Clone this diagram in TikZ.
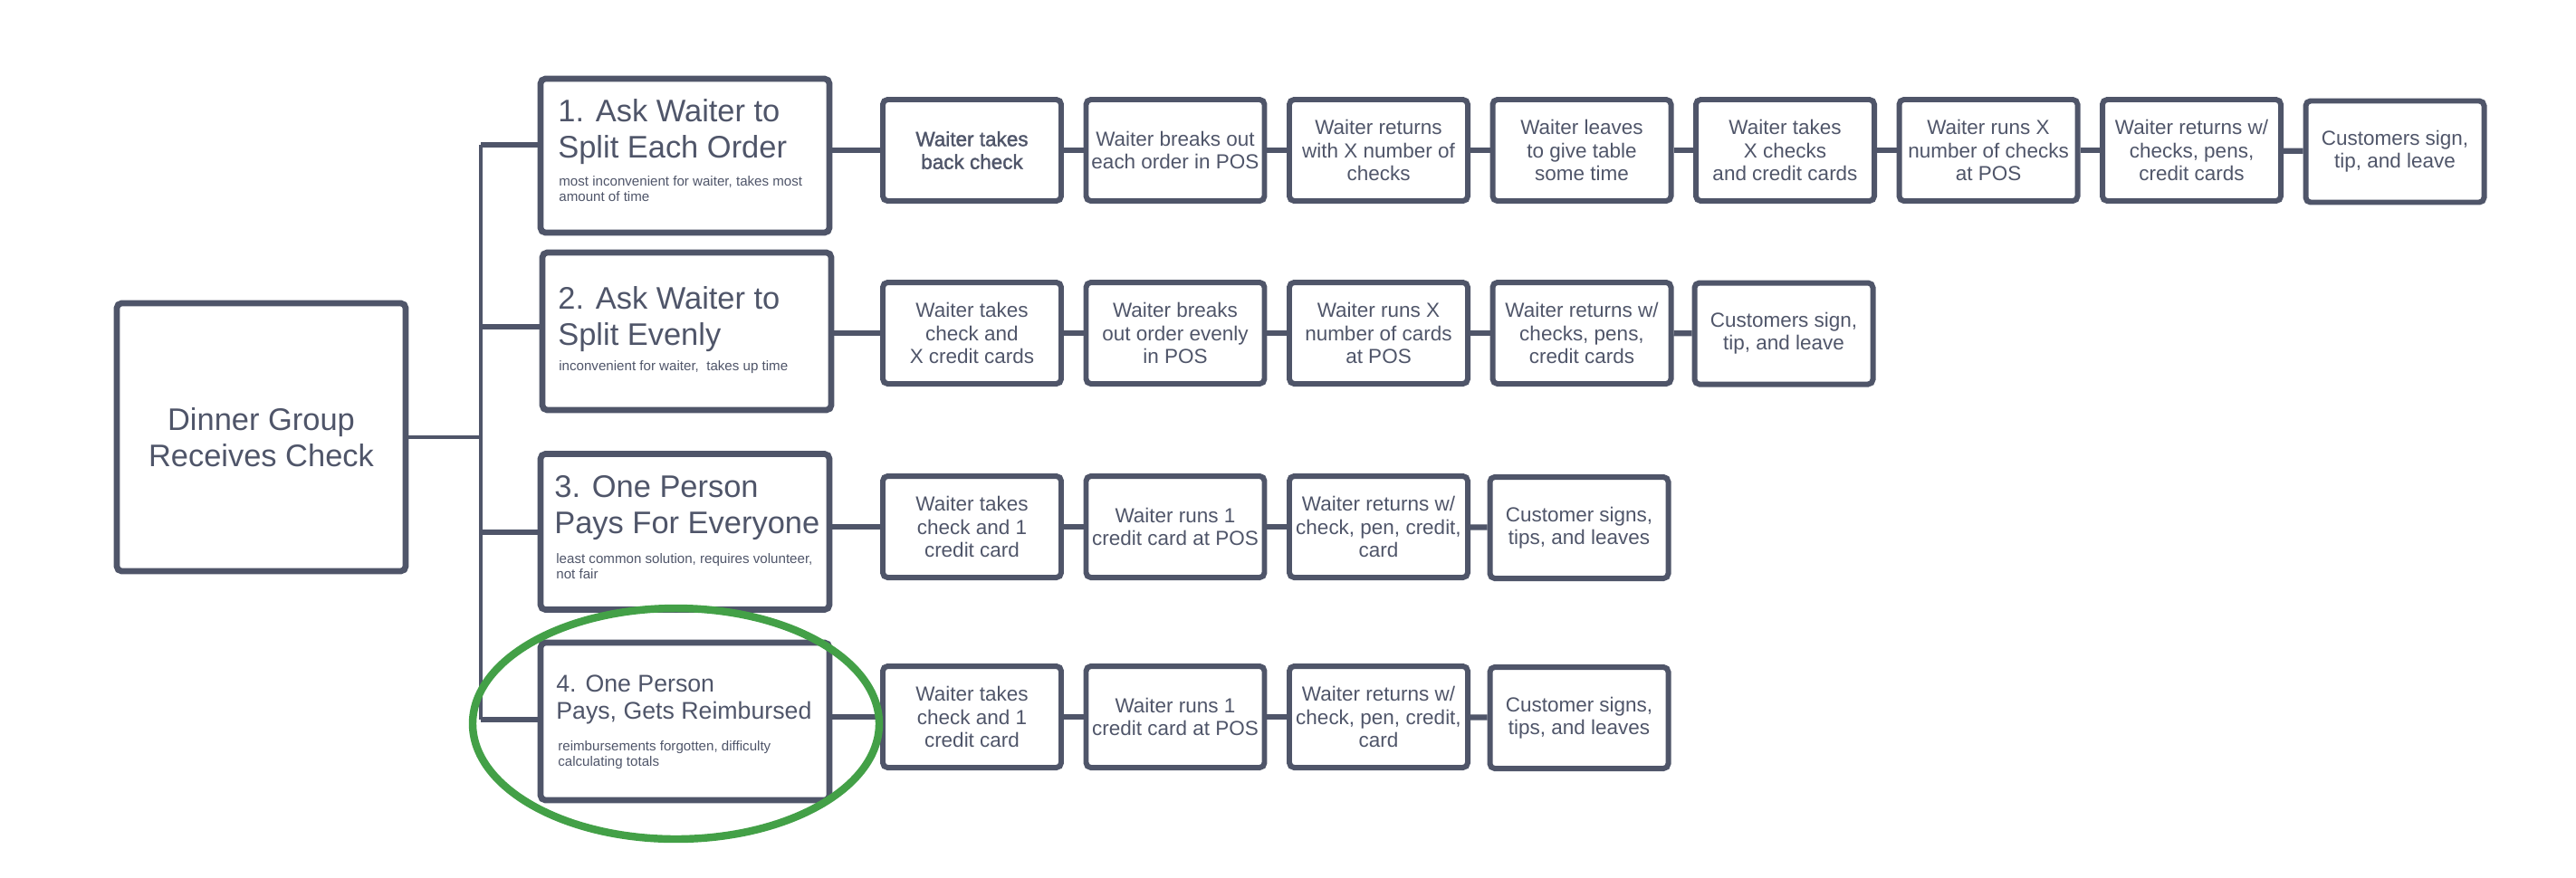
\documentclass[tikz,border=0pt]{standalone}
\usepackage{fontspec}
\setmainfont{Liberation Sans}
\newfontfamily\heavyfont[FakeBold=1.5]{Liberation Sans}
\usetikzlibrary{positioning}

\definecolor{slate}{HTML}{4F5569}
\definecolor{ringgreen}{HTML}{43A047}

\newcommand{\stepsize}{\fontsize{6.4}{7.2}\selectfont}
\newcommand{\titlesize}{\fontsize{9.8}{11.4}\selectfont}
\newcommand{\smalltitlesize}{\fontsize{7.6}{8.8}\selectfont}
\newcommand{\notesize}{\fontsize{4.3}{4.8}\selectfont}

\tikzset{
  mainbox/.style={draw=slate, line width=1.9pt, rounded corners=1.5pt, minimum width=3.19cm, minimum height=2.96cm, align=center, text=slate, font=\titlesize},
  optbox/.style={draw=slate, line width=1.9pt, rounded corners=1.5pt, minimum width=3.19cm},
  opttitle/.style={inner sep=0pt, align=left, text=slate, font=\titlesize},
  optnote/.style={inner sep=0pt, align=left, text=slate, font=\notesize},
  stepbox/.style={draw=slate, line width=1.7pt, rounded corners=1.5pt, minimum width=1.97cm, minimum height=1.12cm, inner sep=0.5pt, align=center, text=slate, font=\stepsize},
  link/.style={draw=slate, line width=1.6pt},
}

\begin{document}
\begin{tikzpicture}
\useasboundingbox (0,0) rectangle (28.45,-9.69);

% start box
\node[mainbox] (start) at (2.885,-4.83) {Dinner Group\\Receives Check};

% the four options
\node[optbox, minimum height=1.70cm] (opt1) at (7.565,-1.72) {};
\node[opttitle, below right=0.25cm and 0.22cm of opt1.north west] (opt1t) {1. Ask Waiter to\\Split Each Order};
\node[optnote, below right=0.12cm and 0.01cm of opt1t.south west] (opt1n) {most inconvenient for waiter, takes most\\amount of time};

\node[optbox, minimum height=1.74cm] (opt2) at (7.585,-3.66) {};
\node[opttitle, below right=0.4cm and 0.2cm of opt2.north west] (opt2t) {2. Ask Waiter to\\Split Evenly};
\node[optnote, below right=0.09cm and 0.01cm of opt2t.south west] (opt2n) {inconvenient for waiter,~ takes up time};

\node[optbox, minimum height=1.72cm] (opt3) at (7.565,-5.875) {};
\node[opttitle, below right=0.27cm and 0.18cm of opt3.north west] (opt3t) {3. One Person\\Pays For Everyone};
\node[optnote, below right=0.13cm and 0.02cm of opt3t.south west] (opt3n) {least common solution, requires volunteer,\\not fair};

\node[optbox, minimum height=1.74cm] (opt4) at (7.565,-7.97) {};
\node[opttitle, font=\smalltitlesize, below right=0.38cm and 0.2cm of opt4.north west] (opt4t) {4. One Person\\Pays, Gets Reimbursed};
\node[optnote, below right=0.17cm and 0.02cm of opt4t.south west] (opt4n) {reimbursements forgotten, difficulty\\calculating totals};

% trunk
\coordinate (j1) at (5.31,-1.60);
\coordinate (j2) at (5.31,-3.61);
\coordinate (j3) at (5.31,-5.88);
\coordinate (j4) at (5.31,-7.95);
\draw[link, line width=1.3pt] (j1) -- (j4);
\draw[link, line width=1.4pt] (start.east) -- (start.east -| j1);
\draw[link] (j1) -- (j1 -| opt1.west);
\draw[link] (j2) -- (j2 -| opt2.west);
\draw[link] (j3) -- (j3 -| opt3.west);
\draw[link] (j4) -- (j4 -| opt4.west);

% row 1
\node[stepbox, font=\stepsize\heavyfont] (s11) at (10.735,-1.66) {Waiter takes\\back check};
\node[stepbox] (s12) at (12.98,-1.66) {Waiter breaks out\\each order in POS};
\node[stepbox] (s13) at (15.225,-1.66) {Waiter returns\\with X number of\\checks};
\node[stepbox] (s14) at (17.47,-1.66) {Waiter leaves\\to give table\\some time};
\node[stepbox] (s15) at (19.715,-1.66) {Waiter takes\\X checks\\and credit cards};
\node[stepbox] (s16) at (21.96,-1.66) {Waiter runs X\\number of checks\\at POS};
\node[stepbox] (s17) at (24.205,-1.66) {Waiter returns w/\\checks, pens,\\credit cards};
\node[stepbox] (s18) at (26.45,-1.675) {Customers sign,\\tip, and leave};

% row 2
\node[stepbox] (s21) at (10.735,-3.68) {Waiter takes\\check and\\X credit cards};
\node[stepbox] (s22) at (12.98,-3.68) {Waiter breaks\\out order evenly\\in POS};
\node[stepbox] (s23) at (15.225,-3.68) {Waiter runs X\\number of cards\\at POS};
\node[stepbox] (s24) at (17.47,-3.68) {Waiter returns w/\\checks, pens,\\credit cards};
\node[stepbox] (s25) at (19.70,-3.685) {Customers sign,\\tip, and leave};

% row 3
\node[stepbox] (s31) at (10.735,-5.82) {Waiter takes\\check and 1\\credit card};
\node[stepbox] (s32) at (12.98,-5.82) {Waiter runs 1\\credit card at POS};
\node[stepbox] (s33) at (15.225,-5.82) {Waiter returns w/\\check, pen, credit,\\card};
\node[stepbox] (s34) at (17.44,-5.83) {Customer signs,\\tips, and leaves};

% row 4
\node[stepbox] (s41) at (10.735,-7.92) {Waiter takes\\check and 1\\credit card};
\node[stepbox] (s42) at (12.98,-7.92) {Waiter runs 1\\credit card at POS};
\node[stepbox] (s43) at (15.225,-7.92) {Waiter returns w/\\check, pen, credit,\\card};
\node[stepbox] (s44) at (17.44,-7.93) {Customer signs,\\tips, and leaves};

% options to first steps
\draw[link] (s11.west -| opt1.east) -- (s11.west);
\draw[link] (s21.west -| opt2.east) -- (s21.west);
\draw[link] (s31.west -| opt3.east) -- (s31.west);
\draw[link] (s41.west -| opt4.east) -- (s41.west);

% steps
\draw[link, line width=1.8pt] (s11) -- (s12);
\draw[link, line width=1.8pt] (s12) -- (s13);
\draw[link, line width=1.8pt] (s13) -- (s14);
\draw[link, line width=1.8pt] (s14) -- (s15);
\draw[link, line width=1.8pt] (s15) -- (s16);
\draw[link, line width=1.8pt] (s16) -- (s17);
\draw[link, line width=1.8pt] (s17) -- (s18);
\draw[link, line width=1.8pt] (s21) -- (s22);
\draw[link, line width=1.8pt] (s22) -- (s23);
\draw[link, line width=1.8pt] (s23) -- (s24);
\draw[link, line width=1.8pt] (s24) -- (s25);
\draw[link, line width=1.8pt] (s31) -- (s32);
\draw[link, line width=1.8pt] (s32) -- (s33);
\draw[link, line width=1.8pt] (s33) -- (s34);
\draw[link, line width=1.8pt] (s41) -- (s42);
\draw[link, line width=1.8pt] (s42) -- (s43);
\draw[link, line width=1.8pt] (s43) -- (s44);

% green ring round option 4
\draw[ringgreen, line width=2.4pt] (7.465,-7.995) ellipse (2.245 and 1.275);
\end{tikzpicture}
\end{document}
